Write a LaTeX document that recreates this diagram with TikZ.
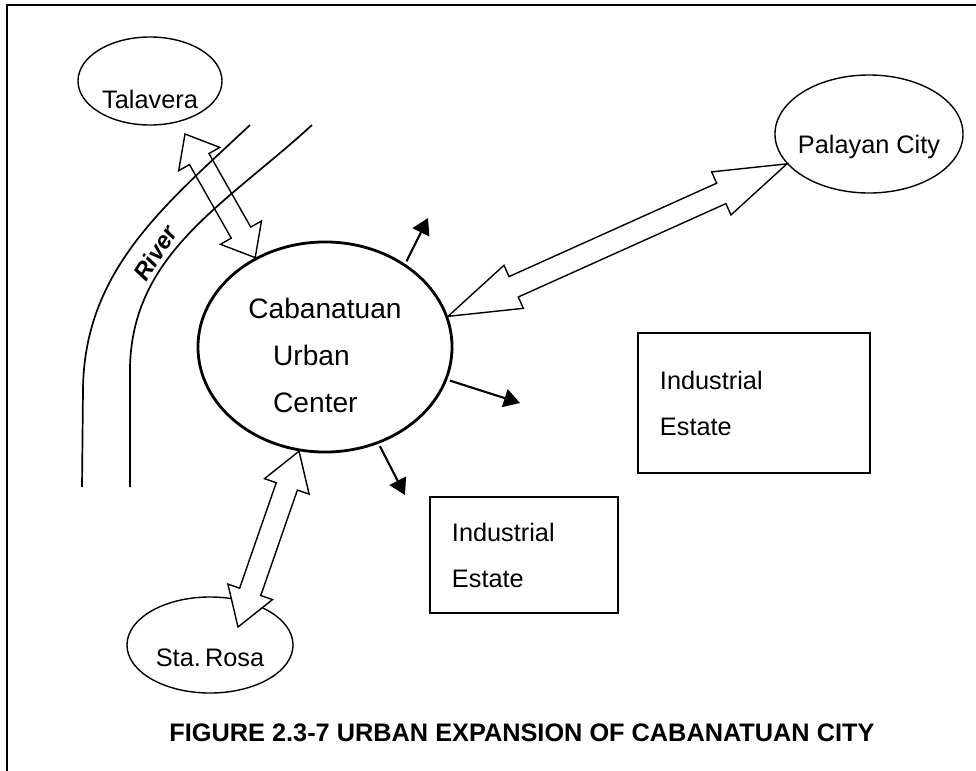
\documentclass[tikz,border=0pt]{standalone}
\usepackage{fontspec}
\setmainfont{Liberation Sans}
\usepackage{tikz}
\usetikzlibrary{calc,arrows.meta,shapes}
\tikzset{
    town/.style={
    ellipse,draw=black,line width=1pt,inner sep=0pt
    },
    urban/.style={
    ellipse,draw=black,line width=2pt,inner sep=0pt,
    minimum width=6.35cm,minimum height=5.25cm
    },
    estate/.style={
    rectangle,draw=black,line width=1.2pt,align=left,inner xsep=0.55cm,
    font=\fontsize{18}{32.7}\selectfont
    },
    riverbank/.style={
    draw=black,line width=1.2pt
    },
    spread/.style={
    -{Triangle[length=0.4cm,width=0.46cm]},line width=1.5pt,shorten <=2pt
    },
    link/.style={
    draw=black,line width=1pt,fill=white,
    to path={
      -- ($(\tikztostart)!#1!(\tikztotarget)!0.59cm!90:(\tikztotarget)$)
      -- ($(\tikztostart)!#1!(\tikztotarget)!0.28cm!90:(\tikztotarget)$)
      -- ($(\tikztotarget)!#1!(\tikztostart)!0.28cm!-90:(\tikztostart)$)
      -- ($(\tikztotarget)!#1!(\tikztostart)!0.59cm!-90:(\tikztostart)$)
      -- (\tikztotarget)
      -- ($(\tikztotarget)!#1!(\tikztostart)!0.59cm!90:(\tikztostart)$)
      -- ($(\tikztotarget)!#1!(\tikztostart)!0.28cm!90:(\tikztostart)$)
      -- ($(\tikztostart)!#1!(\tikztotarget)!0.28cm!-90:(\tikztotarget)$)
      -- ($(\tikztostart)!#1!(\tikztotarget)!0.59cm!-90:(\tikztotarget)$)
      -- cycle
    }
    },
    link/.default=0.8cm,
    figtitle/.style={
    font=\fontsize{18}{22}\selectfont\bfseries
    },
}

\begin{document}
\begin{tikzpicture}[x=0.025cm, y=-0.025cm,
    every label/.style={font=\fontsize{18}{22}\selectfont}]
   \useasboundingbox (0,0) rectangle (976,771);
   \draw[line width=1pt] (7,771) -- (7,5) -- (976,5);

   \node[town, minimum width=3.6cm, minimum height=2.2cm,
         label={[yshift=-0.47cm]center:Talavera}] (tal) at (150,81) {};
   \node[town, minimum width=4.7cm, minimum height=2.95cm,
         label={[yshift=-0.33cm]center:Palayan City}] (pal) at (869,134) {};
   \node[town, minimum width=4.15cm, minimum height=2.4cm,
         label={[yshift=-0.33cm]center:Sta.\,Rosa}] (rosa) at (210,645) {};
   \node[urban, label={[align=left, yshift=-0.2cm, font=\fontsize{20}{33.4}\selectfont]center:
         Cabanatuan\\\hspace*{0.62cm}Urban\\\hspace*{0.62cm}Center}] (cab) at (325,347) {};

   \node[estate, text width=4.7cm, minimum height=3.5cm] (estA) at (754,403) {Industrial\\Estate};
   \node[estate, text width=3.6cm, minimum height=2.9cm] (estB) at (524,555) {Industrial\\Estate};

   \coordinate (talTip)  at ([shift={(35,53)}]tal.center);
   \coordinate (rosaTip) at ([shift={(28,-18)}]rosa.center);
   \coordinate (growN) at (428,218);
   \coordinate (growE) at (520,403);
   \coordinate (growS) at (405,495);

  \path
    (talTip)  edge [link=0.72cm] (cab.128)
    (cab.256) edge [link=0.93cm] (rosaTip)
    (cab.14)  edge [link=1.8cm]  (pal.200)
    (cab.46)  edge [spread] (growN)
    (cab.-15) edge [spread] (growE)
    (cab.-61) edge [spread] (growS);

   \draw[riverbank] (250,125) .. controls (165,205) and (84,270) .. (83,390) -- (82,487);
   \draw[riverbank] (312,125) .. controls (225,205) and (128,255) .. (130,375) -- (130,487);
   \node[rotate=58, inner sep=0pt, font=\fontsize{17}{19}\selectfont\bfseries\itshape] (riv) at (155,253) {River};

   \node[figtitle] (fig) at (522,733) {FIGURE 2.3-7 URBAN EXPANSION OF CABANATUAN CITY};
\end{tikzpicture}
\end{document}
